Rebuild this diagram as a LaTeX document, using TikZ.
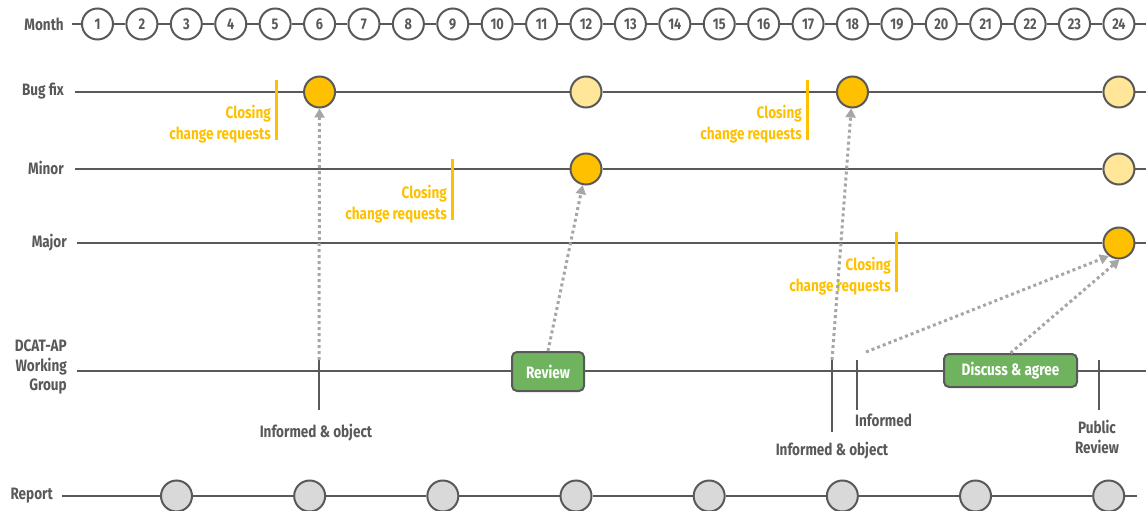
\documentclass[tikz,border=0pt]{standalone}
\usepackage{fontspec}
\setmainfont{Fira Sans}[FakeStretch=0.82]
\usetikzlibrary{arrows.meta}
\definecolor{dg}{HTML}{595959}
\definecolor{orA}{HTML}{FFC000}
\definecolor{orB}{HTML}{FFE699}
\definecolor{lg}{HTML}{D9D9D9}
\definecolor{ag}{HTML}{A6A6A6}
\definecolor{gr}{HTML}{70B35E}
\begin{document}
\begin{tikzpicture}[x=1pt,y=-1pt,
  lbl/.style={font=\fontsize{16.5}{19.5}\selectfont\bfseries, text=dg, inner sep=0pt},
  mon/.style={circle, draw=dg, line width=2pt, fill=white, minimum size=31pt, inner sep=0pt, font=\fontsize{15.5}{15}\selectfont\bfseries, text=dg},
  axis/.style={draw=dg, line width=2.2pt},
  ms/.style={circle, draw=dg, line width=2pt, minimum size=31pt, inner sep=0pt},
  hot/.style={ms, fill=orA},
  pale/.style={ms, fill=orB},
  rep/.style={ms, fill=lg},
  closing/.style={lbl, text=orA, align=right, anchor=east, font=\fontsize{16.5}{21}\selectfont\bfseries},
  cbar/.style={draw=orA, line width=3pt},
  tickmark/.style={draw=dg, line width=2.5pt},
  flow/.style={draw=ag, line width=3pt, dash pattern=on 3pt off 3pt, -{Triangle[length=9pt,width=10pt]}},
  task/.style={draw=dg, line width=2pt, rounded corners=5pt, fill=gr, text=white, font=\fontsize{16.5}{16}\selectfont\bfseries, inner sep=0pt}
]
\useasboundingbox (0,0) rectangle (1146,511);
% month row
\node[lbl, anchor=east] (lmonth) at (64,24) {Month};
\foreach \i in {1,...,24} \node[mon] (m\i) at ({97.5+44.41*(\i-1)},24) {\i};
\coordinate (mstart) at (72,24);
\coordinate (mend) at (1146,24);
\draw[axis] (mstart) -- (m1);
\foreach \i [evaluate=\i as \j using int(\i+1)] in {1,...,23} \draw[axis] (m\i) -- (m\j);
\draw[axis] (m24) -- (mend);
% bug fix row
\node[lbl, anchor=east] (lbug) at (64,91) {Bug fix};
\coordinate (bstart) at (75,92);
\coordinate (bend) at (1146,92);
\node[hot] (b6) at ({97.5+44.41*5},92) {};
\node[pale] (b12) at ({97.5+44.41*11},92) {};
\node[hot] (b18) at ({97.5+44.41*17},92) {};
\node[pale] (b24) at ({97.5+44.41*23},92) {};
\draw[axis] (bstart) -- (b6) -- (b12) -- (b18) -- (b24) -- (bend);
% minor row
\node[lbl, anchor=east] (lminor) at (64,168) {Minor};
\coordinate (nstart) at (75,169);
\coordinate (nend) at (1146,169);
\node[hot] (n12) at ({97.5+44.41*11},169) {};
\node[pale] (n24) at ({97.5+44.41*23},169) {};
\draw[axis] (nstart) -- (n12) -- (n24) -- (nend);
% major row
\node[lbl, anchor=east] (lmajor) at (67,243) {Major};
\coordinate (jstart) at (77,243);
\coordinate (jend) at (1146,243);
\node[hot] (j24) at ({97.5+44.41*23},243) {};
\draw[axis] (jstart) -- (j24) -- (jend);
% closing markers
\coordinate (c1a) at (276,80); \coordinate (c1b) at (276,140);
\draw[cbar] (c1a) -- (c1b);
\node[closing] (c1) at (271,124) {Closing\\change requests};
\coordinate (c2a) at (807,80); \coordinate (c2b) at (807,140);
\draw[cbar] (c2a) -- (c2b);
\node[closing] (c2) at (802,124) {Closing\\change requests};
\coordinate (c3a) at (452,159); \coordinate (c3b) at (452,220);
\draw[cbar] (c3a) -- (c3b);
\node[closing] (c3) at (447,204) {Closing\\change requests};
\coordinate (c4a) at (896,232); \coordinate (c4b) at (896,292);
\draw[cbar] (c4a) -- (c4b);
\node[closing] (c4) at (891,276) {Closing\\change requests};
% working group row
\node[lbl, anchor=east, align=right] (lwg) at (67,367) {DCAT-AP\\Working\\Group};
\coordinate (wstart) at (77,371);
\coordinate (wend) at (1146,371);
\node[task, minimum width=72pt, minimum height=39pt] (review) at (548,371.5) {Review};
\node[task, minimum width=133pt, minimum height=33pt] (discuss) at (1010.5,370.5) {Discuss \& agree};
\draw[axis] (wstart) -- (review.west |- wstart);
\draw[axis] (review.east |- wstart) -- (discuss.west |- wstart);
\draw[axis] (discuss.east |- wstart) -- (wend);
\coordinate (t1a) at (319,360); \coordinate (t1b) at (319,410);
\draw[tickmark] (t1a) -- (t1b);
\node[lbl] (i1) at (316,433) {Informed \& object};
\coordinate (t2a) at (832,360); \coordinate (t2b) at (832,432);
\draw[tickmark] (t2a) -- (t2b);
\node[lbl] (i2) at (832,451) {Informed \& object};
\coordinate (t3a) at (857,360); \coordinate (t3b) at (857,410);
\draw[tickmark] (t3a) -- (t3b);
\node[lbl, anchor=west] (i3) at (855,420) {Informed};
\coordinate (t4a) at (1099,360); \coordinate (t4b) at (1099,410);
\draw[tickmark] (t4a) -- (t4b);
\node[lbl, align=center] (i4) at (1097,437) {Public\\Review};
% report row
\node[lbl, anchor=east] (lrep) at (53,496) {Report};
\coordinate (rstart) at (62,496);
\coordinate (rend) at (1137,496);
\foreach \k in {1,...,8} \node[rep] (r\k) at ({176.5+133.17*(\k-1)},496) {};
\draw[axis] (rstart) -- (r1);
\foreach \k [evaluate=\k as \l using int(\k+1)] in {1,...,7} \draw[axis] (r\k) -- (r\l);
\draw[axis] (r8) -- (rend);
% flows
\coordinate (a4) at (866,352);
\draw[flow] (t1a) -- (b6);
\draw[flow] (review.north) -- (n12);
\draw[flow] (t2a) -- (b18);
\draw[flow] (a4) -- (j24.232);
\draw[flow] (discuss.north) -- (j24.272);
\end{tikzpicture}
\end{document}
